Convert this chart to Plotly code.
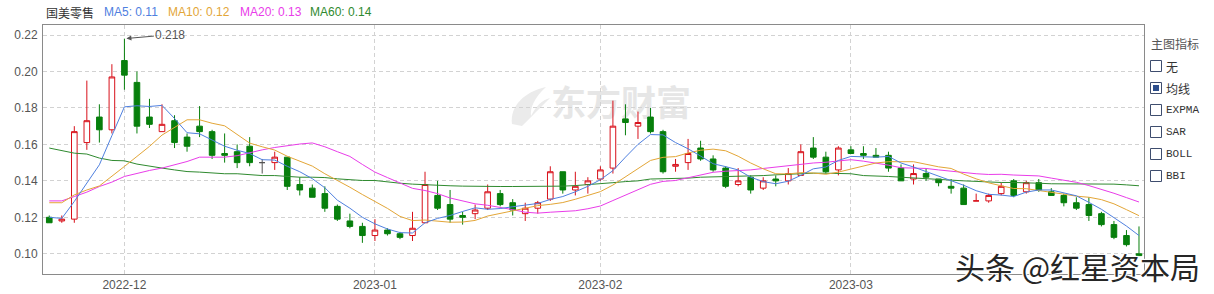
import plotly.graph_objects as go

# ---------------- data ----------------
stock_name = "国美零售"
dates = [
    "2022-11-23", "2022-11-24", "2022-11-25", "2022-11-28", "2022-11-29", "2022-11-30",
    "2022-12-01", "2022-12-02", "2022-12-05", "2022-12-06", "2022-12-07", "2022-12-08", "2022-12-09",
    "2022-12-12", "2022-12-13", "2022-12-14", "2022-12-15", "2022-12-16",
    "2022-12-19", "2022-12-20", "2022-12-21", "2022-12-22", "2022-12-23",
    "2022-12-28", "2022-12-29", "2022-12-30",
    "2023-01-03", "2023-01-04", "2023-01-05", "2023-01-06",
    "2023-01-09", "2023-01-10", "2023-01-11", "2023-01-12", "2023-01-13",
    "2023-01-16", "2023-01-17", "2023-01-18", "2023-01-19", "2023-01-20",
    "2023-01-26", "2023-01-27", "2023-01-30", "2023-01-31",
    "2023-02-01", "2023-02-02", "2023-02-03",
    "2023-02-06", "2023-02-07", "2023-02-08", "2023-02-09", "2023-02-10",
    "2023-02-13", "2023-02-14", "2023-02-15", "2023-02-16", "2023-02-17",
    "2023-02-20", "2023-02-21", "2023-02-22", "2023-02-23", "2023-02-24",
    "2023-02-27", "2023-02-28",
    "2023-03-01", "2023-03-02", "2023-03-03",
    "2023-03-06", "2023-03-07", "2023-03-08", "2023-03-09", "2023-03-10",
    "2023-03-13", "2023-03-14", "2023-03-15", "2023-03-16", "2023-03-17",
    "2023-03-20", "2023-03-21", "2023-03-22", "2023-03-23", "2023-03-24",
    "2023-03-27", "2023-03-28", "2023-03-29", "2023-03-30", "2023-03-31",
    "2023-04-03",
]
opens = [
    0.120, 0.118, 0.119, 0.161, 0.175, 0.168, 0.206, 0.194, 0.175, 0.167,
    0.173, 0.164, 0.170, 0.167, 0.155, 0.156, 0.159, 0.150, 0.150, 0.153,
    0.138, 0.136, 0.133, 0.126, 0.118, 0.115, 0.110, 0.113, 0.111, 0.110,
    0.117, 0.132, 0.127, 0.121, 0.122, 0.125, 0.133, 0.128, 0.122, 0.125,
    0.130, 0.145, 0.135, 0.138, 0.141, 0.147, 0.174, 0.170, 0.175, 0.167,
    0.148, 0.150, 0.158, 0.152, 0.147, 0.138, 0.142, 0.136, 0.141, 0.140,
    0.143, 0.158, 0.153, 0.146, 0.157, 0.155, 0.154, 0.154, 0.147, 0.141,
    0.144, 0.141, 0.137, 0.136, 0.129, 0.129, 0.133, 0.140, 0.134, 0.139,
    0.134, 0.132, 0.128, 0.127, 0.122, 0.116, 0.110, 0.100,
]
highs = [
    0.121, 0.121, 0.170, 0.195, 0.182, 0.204, 0.218, 0.200, 0.185, 0.182,
    0.176, 0.166, 0.181, 0.168, 0.166, 0.160, 0.164, 0.152, 0.156, 0.153,
    0.142, 0.138, 0.137, 0.127, 0.122, 0.117, 0.119, 0.114, 0.112, 0.123,
    0.145, 0.140, 0.135, 0.123, 0.127, 0.138, 0.135, 0.130, 0.128, 0.129,
    0.148, 0.145, 0.145, 0.142, 0.148, 0.184, 0.182, 0.178, 0.180, 0.168,
    0.152, 0.163, 0.162, 0.154, 0.148, 0.147, 0.143, 0.142, 0.143, 0.147,
    0.160, 0.164, 0.156, 0.159, 0.159, 0.159, 0.158, 0.156, 0.149, 0.149,
    0.147, 0.141, 0.141, 0.138, 0.133, 0.133, 0.139, 0.141, 0.140, 0.141,
    0.136, 0.133, 0.131, 0.131, 0.123, 0.118, 0.113, 0.115,
]
lows = [
    0.117, 0.117, 0.117, 0.157, 0.161, 0.166, 0.190, 0.166, 0.169, 0.167,
    0.158, 0.156, 0.164, 0.152, 0.150, 0.147, 0.148, 0.144, 0.146, 0.135,
    0.132, 0.131, 0.123, 0.118, 0.114, 0.106, 0.107, 0.110, 0.108, 0.107,
    0.117, 0.124, 0.117, 0.116, 0.119, 0.124, 0.126, 0.121, 0.118, 0.122,
    0.129, 0.133, 0.132, 0.133, 0.140, 0.144, 0.165, 0.163, 0.166, 0.144,
    0.145, 0.146, 0.151, 0.145, 0.136, 0.137, 0.133, 0.135, 0.137, 0.138,
    0.143, 0.152, 0.144, 0.143, 0.155, 0.152, 0.153, 0.145, 0.140, 0.138,
    0.140, 0.137, 0.133, 0.127, 0.129, 0.128, 0.132, 0.131, 0.133, 0.134,
    0.132, 0.126, 0.124, 0.118, 0.115, 0.108, 0.104, 0.099,
]
closes = [
    0.117, 0.119, 0.167, 0.173, 0.168, 0.197, 0.198, 0.170, 0.171, 0.171,
    0.161, 0.159, 0.167, 0.154, 0.154, 0.150, 0.150, 0.150, 0.153, 0.137,
    0.135, 0.131, 0.125, 0.119, 0.115, 0.110, 0.113, 0.111, 0.109, 0.114,
    0.138, 0.125, 0.119, 0.120, 0.124, 0.134, 0.127, 0.124, 0.125, 0.128,
    0.145, 0.135, 0.137, 0.140, 0.146, 0.170, 0.172, 0.172, 0.167, 0.145,
    0.149, 0.155, 0.152, 0.146, 0.137, 0.140, 0.135, 0.140, 0.140, 0.144,
    0.156, 0.153, 0.145, 0.158, 0.155, 0.154, 0.153, 0.147, 0.140, 0.144,
    0.142, 0.139, 0.136, 0.127, 0.129, 0.132, 0.137, 0.132, 0.139, 0.135,
    0.132, 0.128, 0.125, 0.121, 0.116, 0.109, 0.105, 0.099,
]
ma5 = [
    0.1200, 0.1194, 0.1287, 0.1390, 0.1488, 0.1648, 0.1806, 0.1812, 0.1808, 0.1814,
    0.1742, 0.1664, 0.1658, 0.1624, 0.1590, 0.1568, 0.1550, 0.1516, 0.1514, 0.1480,
    0.1450, 0.1412, 0.1362, 0.1294, 0.1250, 0.1200, 0.1164, 0.1136, 0.1116, 0.1114,
    0.1170, 0.1194, 0.1210, 0.1232, 0.1252, 0.1244, 0.1248, 0.1258, 0.1268, 0.1276,
    0.1298, 0.1314, 0.1340, 0.1370, 0.1406, 0.1456, 0.1530, 0.1600, 0.1654, 0.1652,
    0.1610, 0.1576, 0.1536, 0.1494, 0.1478, 0.1460, 0.1420, 0.1396, 0.1384, 0.1398,
    0.1430, 0.1466, 0.1476, 0.1512, 0.1534, 0.1530, 0.1530, 0.1534, 0.1498, 0.1476,
    0.1452, 0.1424, 0.1402, 0.1376, 0.1346, 0.1326, 0.1322, 0.1314, 0.1338, 0.1350,
    0.1350, 0.1332, 0.1318, 0.1282, 0.1244, 0.1198, 0.1152, 0.1100,
]
ma10 = [
    0.1280, 0.1280, 0.1323, 0.1350, 0.1372, 0.1424, 0.1479, 0.1534, 0.1589, 0.1651,
    0.1695, 0.1735, 0.1735, 0.1716, 0.1702, 0.1655, 0.1607, 0.1587, 0.1569, 0.1535,
    0.1509, 0.1481, 0.1439, 0.1404, 0.1365, 0.1325, 0.1288, 0.1249, 0.1205, 0.1182,
    0.1185, 0.1179, 0.1173, 0.1174, 0.1183, 0.1207, 0.1221, 0.1234, 0.1250, 0.1264,
    0.1271, 0.1281, 0.1299, 0.1319, 0.1341, 0.1377, 0.1422, 0.1470, 0.1512, 0.1529,
    0.1533, 0.1553, 0.1568, 0.1574, 0.1565, 0.1535, 0.1498, 0.1466, 0.1439, 0.1438,
    0.1445, 0.1443, 0.1436, 0.1448, 0.1466, 0.1480, 0.1498, 0.1505, 0.1505, 0.1505,
    0.1491, 0.1477, 0.1468, 0.1437, 0.1411, 0.1389, 0.1373, 0.1358, 0.1357, 0.1348,
    0.1338, 0.1327, 0.1316, 0.1310, 0.1297, 0.1274, 0.1242, 0.1209,
]
ma20 = [
    0.1290, 0.1290, 0.1314, 0.1338, 0.1369, 0.1393, 0.1424, 0.1442, 0.1457, 0.1470,
    0.1488, 0.1506, 0.1530, 0.1530, 0.1530, 0.1538, 0.1556, 0.1570, 0.1583, 0.1593,
    0.1602, 0.1608, 0.1587, 0.1560, 0.1534, 0.1490, 0.1448, 0.1418, 0.1387, 0.1359,
    0.1347, 0.1330, 0.1306, 0.1289, 0.1274, 0.1266, 0.1255, 0.1242, 0.1228, 0.1223,
    0.1228, 0.1230, 0.1236, 0.1247, 0.1262, 0.1292, 0.1322, 0.1352, 0.1381, 0.1397,
    0.1402, 0.1417, 0.1434, 0.1447, 0.1453, 0.1456, 0.1460, 0.1468, 0.1476, 0.1484,
    0.1489, 0.1498, 0.1502, 0.1511, 0.1516, 0.1508, 0.1498, 0.1486, 0.1472, 0.1472,
    0.1468, 0.1460, 0.1452, 0.1443, 0.1439, 0.1435, 0.1436, 0.1432, 0.1431, 0.1427,
    0.1415, 0.1402, 0.1392, 0.1374, 0.1354, 0.1332, 0.1308, 0.1284,
]
ma60 = [
    0.1580, 0.1565, 0.1552, 0.1547, 0.1525, 0.1512, 0.1510, 0.1492, 0.1479, 0.1470,
    0.1460, 0.1451, 0.1448, 0.1442, 0.1439, 0.1439, 0.1433, 0.1429, 0.1429, 0.1424,
    0.1420, 0.1420, 0.1418, 0.1411, 0.1406, 0.1402, 0.1402, 0.1393, 0.1387, 0.1382,
    0.1378, 0.1374, 0.1373, 0.1371, 0.1369, 0.1369, 0.1369, 0.1369, 0.1369, 0.1369,
    0.1369, 0.1371, 0.1374, 0.1378, 0.1383, 0.1390, 0.1396, 0.1400, 0.1410, 0.1411,
    0.1411, 0.1415, 0.1420, 0.1422, 0.1422, 0.1424, 0.1424, 0.1429, 0.1433, 0.1437,
    0.1440, 0.1442, 0.1442, 0.1442, 0.1439, 0.1429, 0.1428, 0.1424, 0.1420, 0.1415,
    0.1411, 0.1409, 0.1404, 0.1400, 0.1396, 0.1393, 0.1391, 0.1391, 0.1387, 0.1387,
    0.1384, 0.1384, 0.1384, 0.1384, 0.1384, 0.1382, 0.1378, 0.1373,
]
month_ticks = ["2022-12-01", "2023-01-03", "2023-02-01", "2023-03-01"]
month_labels = ["2022-12", "2023-01", "2023-02", "2023-03"]
y_ticks = [0.10, 0.12, 0.14, 0.16, 0.18, 0.20, 0.22]
indicator_options = ["无", "均线", "EXPMA", "SAR", "BOLL", "BBI"]
selected_option = "均线"

# ---------------- styles ----------------
RED = "#d8101a"
GREEN = "#077f0c"
FLAT = "#555555"
C_MA5, C_MA10, C_MA20, C_MA60 = "#4f80df", "#e3a637", "#e93ce9", "#2f8a2f"
FONT = "Liberation Sans, Arial, Noto Sans CJK SC, sans-serif"
CJK = "Noto Sans CJK SC, Liberation Sans, sans-serif"
L, R, T, B = 43, 1144, 25, 274  # plot area in pixels


def px(x):
    return (x - L) / (R - L)


def py(y):
    return (B - y) / (B - T)


n = len(dates)
flat = [i > 0 and round(opens[i], 4) == round(closes[i], 4) == round(closes[i - 1], 4) for i in range(n)]


def pick(vals, keep):
    return [v if k else None for v, k in zip(vals, keep)]


not_flat = [not f for f in flat]

fig = go.Figure()
fig.add_trace(go.Candlestick(
    x=dates, open=pick(opens, not_flat), high=pick(highs, not_flat),
    low=pick(lows, not_flat), close=pick(closes, not_flat),
    increasing=dict(line=dict(color=RED, width=1), fillcolor="white"),
    decreasing=dict(line=dict(color=GREEN, width=1), fillcolor=GREEN),
    whiskerwidth=0, hoverinfo="skip",
))
fig.add_trace(go.Candlestick(
    x=dates, open=pick(opens, flat), high=pick(highs, flat),
    low=pick(lows, flat), close=pick(closes, flat),
    increasing=dict(line=dict(color=FLAT, width=1), fillcolor=FLAT),
    decreasing=dict(line=dict(color=FLAT, width=1), fillcolor=FLAT),
    whiskerwidth=0, hoverinfo="skip",
))
for vals, col in [(ma60, C_MA60), (ma20, C_MA20), (ma10, C_MA10), (ma5, C_MA5)]:
    fig.add_trace(go.Scatter(x=dates, y=vals, mode="lines",
                             line=dict(color=col, width=1), hoverinfo="skip"))

grid = dict(showgrid=True, gridcolor="#d2d2d2", gridwidth=1, griddash="4px,3px",
            showline=True, mirror=True, linecolor="#8a8a8a", linewidth=1,
            zeroline=False, ticks="", fixedrange=True, automargin=False,
            tickfont=dict(family=FONT, size=12, color="#555555"))

fig.update_layout(
    template="none",
    width=1214, height=294, autosize=False,
    margin=dict(l=L, r=1214 - R, t=T, b=294 - B, pad=0),
    paper_bgcolor="white", plot_bgcolor="white",
    showlegend=False, hovermode=False, boxgap=0.36,
    font=dict(family=FONT, size=12, color="#555555"),
    xaxis=dict(type="category", categoryorder="array", categoryarray=dates,
               range=[-0.5, n - 0.6], tickvals=month_ticks, ticktext=month_labels,
               rangeslider=dict(visible=False), **grid),
    yaxis=dict(range=[0.0889, 0.2255], tickvals=y_ticks, tickformat=".2f",
               ticklabelstandoff=2, **grid),
)

ann = []
# header legend
ann.append(dict(text=stock_name, x=px(44), y=py(12), xref="paper", yref="paper",
                xanchor="left", yanchor="middle", showarrow=False,
                font=dict(family=CJK, size=12, color="#333333")))
for label, vals, col, xpos in [("MA5", ma5, C_MA5, 102), ("MA10", ma10, C_MA10, 166),
                               ("MA20", ma20, C_MA20, 238), ("MA60", ma60, C_MA60, 308)]:
    ann.append(dict(text=f"{label}: {vals[-1]:.2f}", x=px(xpos), y=py(12), xref="paper", yref="paper",
                    xanchor="left", yanchor="middle", showarrow=False,
                    font=dict(family=FONT, size=12, color=col)))

# max high marker
imax = highs.index(max(highs))
ann.append(dict(text=f"{highs[imax]:.3f}", x=dates[imax], y=highs[imax], xref="x", yref="y",
                showarrow=True, arrowhead=2, arrowsize=1, arrowwidth=1, arrowcolor="#555555",
                ax=46, ay=-4, standoff=2, font=dict(family=FONT, size=12, color="#555555")))

# right panel
ann.append(dict(text="主图指标", x=px(1149), y=py(43), xref="paper", yref="paper",
                xanchor="left", yanchor="middle", showarrow=False,
                font=dict(family=CJK, size=12, color="#555555")))
shapes = []
for k, opt in enumerate(indicator_options):
    yc = 66 + 22 * k
    shapes.append(dict(type="rect", xref="paper", yref="paper",
                       x0=px(1150.5), x1=px(1161.5), y0=py(yc + 5.5), y1=py(yc - 5.5),
                       line=dict(color="#3e4d6e", width=1), fillcolor="white", layer="above"))
    if opt == selected_option:
        shapes.append(dict(type="rect", xref="paper", yref="paper",
                           x0=px(1153), x1=px(1159), y0=py(yc + 3), y1=py(yc - 3),
                           line=dict(width=0), fillcolor="#2d4e8c", layer="above"))
    is_cjk = any(ord(ch) > 127 for ch in opt)
    ann.append(dict(text=opt, x=px(1164), y=py(yc), xref="paper", yref="paper",
                    xanchor="left", yanchor="middle", showarrow=False,
                    font=dict(family=CJK if is_cjk else "Liberation Mono, monospace",
                              size=12 if is_cjk else 11, color="#333333")))

# background watermark (东方财富)
shapes.append(dict(type="rect", xref="paper", yref="paper",
                   x0=px(548), x1=px(694), y0=py(124), y1=py(88),
                   line=dict(width=0), fillcolor="rgba(0,0,0,0)", layer="below",
                   label=dict(text="东方财富", font=dict(family=CJK, size=35, color="#e6e6e6", weight="bold"))))
logo = (f"M {px(512)},{py(124)} C {px(510)},{py(106)} {px(524)},{py(92)} {px(546)},{py(87)} "
        f"C {px(534)},{py(98)} {px(530)},{py(108)} {px(531)},{py(116)} "
        f"C {px(536)},{py(106)} {px(542)},{py(100)} {px(550)},{py(98)} "
        f"C {px(540)},{py(108)} {px(530)},{py(118)} {px(522)},{py(126)} Z")
shapes.append(dict(type="path", xref="paper", yref="paper", path=logo,
                   line=dict(width=0), fillcolor="#ebebeb", layer="below"))

# platform watermark
ann.append(dict(text="头条 @红星资本局", x=px(1077), y=py(266), xref="paper", yref="paper",
                xanchor="center", yanchor="middle", showarrow=False,
                font=dict(family=CJK, size=30, color="#262626",
                          shadow="1px 1px 1px #fff, -1px -1px 1px #fff, 1px -1px 1px #fff, -1px 1px 1px #fff")))

fig.update_layout(annotations=ann, shapes=shapes)
fig.write_html("out.html")
